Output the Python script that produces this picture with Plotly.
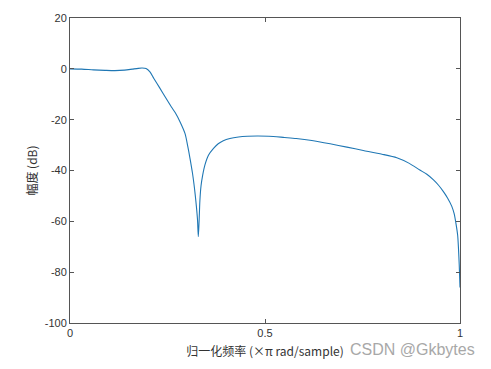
import plotly.graph_objects as go

freq = [0, 0.03, 0.06, 0.09, 0.115, 0.14, 0.16, 0.175, 0.185, 0.195, 0.205, 0.215, 0.23, 0.245,
        0.26, 0.27, 0.282, 0.295, 0.302, 0.308, 0.314, 0.318, 0.321, 0.324, 0.327, 0.329,
        0.331, 0.333, 0.336, 0.340, 0.346, 0.355, 0.368, 0.38, 0.393, 0.41, 0.432, 0.455,
        0.48, 0.51, 0.55, 0.58, 0.62, 0.667, 0.71, 0.752, 0.8, 0.838, 0.87, 0.897, 0.915,
        0.932, 0.945, 0.957, 0.968, 0.979, 0.985, 0.99, 0.994, 0.996, 0.998, 1.0]
mag_db = [0, -0.1, -0.4, -0.6, -0.7, -0.5, -0.1, 0.2, 0.3, 0.1, -1.2, -3.8, -7.5, -11.3,
          -15.0, -17.3, -20.8, -25.5, -30.5, -35.5, -41, -45.5, -49.5, -54, -59.5, -66,
          -60, -52, -46, -42, -37.8, -34, -31.3, -29.5, -28.3, -27.4, -26.8, -26.5,
          -26.4, -26.5, -27.0, -27.4, -28.2, -29.5, -30.8, -32.1, -33.6, -35.0, -37.2, -39.8, -41.5,
          -43.7, -45.8, -48.2, -50.8, -54.1, -57.0, -61.2, -65.5, -70.3, -77, -86]

x_ticks = [0, 0.5, 1]
x_ticklabels = ["0", "0.5", "1"]
y_ticks = [20, 0, -20, -40, -60, -80, -100]
y_ticklabels = ["20", "0", "-20", "-40", "-60", "-80", "-100"]

x_title = "归一化频率 (×π rad/sample)"
y_title = "幅度 (dB)"
watermark = "CSDN @Gkbytes"

fig = go.Figure()
fig.add_trace(go.Scatter(x=freq, y=mag_db, mode="lines",
                         line=dict(color="#1f77b4", width=1.1, shape="spline", smoothing=0.7),
                         showlegend=False))

axis_common = dict(showline=True, linecolor="#555555", linewidth=1, mirror="ticks",
                   ticks="inside", ticklen=4, tickcolor="#555555", showgrid=False,
                   zeroline=False,
                   tickfont=dict(family="Liberation Sans, Arial, sans-serif", size=11, color="#333333"))

fig.update_layout(
    width=491, height=369,
    margin=dict(l=70, r=31, t=18, b=43),
    paper_bgcolor="white", plot_bgcolor="white",
    xaxis=dict(range=[0, 1], tickvals=x_ticks, ticktext=x_ticklabels,
               title=dict(text=x_title, standoff=9,
                          font=dict(family="Noto Sans CJK SC, Liberation Sans, sans-serif", size=12, color="#333333")),
               **axis_common),
    yaxis=dict(range=[-100, 20], tickvals=y_ticks, ticktext=y_ticklabels,
               title=dict(text=y_title, standoff=4,
                          font=dict(family="Noto Sans CJK SC, Liberation Sans, sans-serif", size=12, color="#333333")),
               **axis_common),
    annotations=[dict(text=watermark, xref="paper", yref="paper", x=0.713, y=-0.086,
                      xanchor="left", yanchor="middle", showarrow=False,
                      font=dict(family="Liberation Sans, Arial, sans-serif", size=16, color="#a8a8a8"))],
)

fig.write_html("out.html")
